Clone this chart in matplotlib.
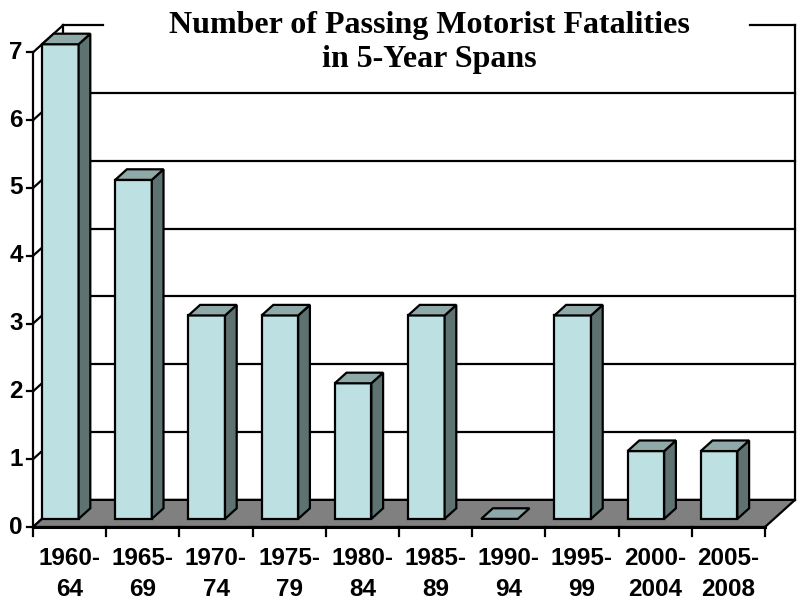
import numpy as np
import matplotlib
matplotlib.use('Agg')
from matplotlib import pyplot as plt
from matplotlib.patches import Polygon

# Chart data
categories = ['1960-\n64', '1965-\n69', '1970-\n74', '1975-\n79', '1980-\n84',
              '1985-\n89', '1990-\n94', '1995-\n99', '2000-\n2004', '2005-\n2008']
fatalities = [7, 5, 3, 3, 2, 3, 0, 3, 1, 1]
y_ticks = [0, 1, 2, 3, 4, 5, 6, 7]
title_text = 'Number of Passing Motorist Fatalities\nin 5-Year Spans'

# Colours
front_color = '#bde0e3'
side_color = '#5f7272'
top_color = '#8fa9a9'
floor_color = '#808080'

# Depth of the 3D box, in data units (x in categories, y in values)
depth_dx = 0.41
depth_dy = 0.40
bar_z0, bar_z1 = 0.30, 0.69
bar_width = 0.50

n = len(categories)
y_max = max(y_ticks)


def proj(x, y, z):
    # oblique projection: depth moves to the right and up
    return (x + z * depth_dx, y + z * depth_dy)


fig = plt.figure(figsize=(7.99, 6.06), dpi=100)
ax = fig.add_axes([0, 0, 1, 1])
ax.set_xlim(-33 / 73.2, (799 - 33) / 73.2)
ax.set_ylim(-79 / 67.8, (606 - 79) / 67.8)
ax.axis('off')

lw = 1.6

# Back wall and gridlines
for v in y_ticks:
    x0, y0 = proj(0, v, 1)
    x1, y1 = proj(n, v, 1)
    if v == y_max:
        # top edge is broken where the title sits
        ax.plot([x0, 0.96], [y0, y1], color='black', lw=lw, zorder=1)
        ax.plot([9.8, x1], [y0, y1], color='black', lw=lw, zorder=1)
    else:
        ax.plot([x0, x1], [y0, y1], color='black', lw=lw, zorder=1)
    # gridline on the left wall
    xa, ya = proj(0, v, 0)
    ax.plot([xa, x0], [ya, y0], color='black', lw=lw, zorder=1)
bx0, by0 = proj(0, 0, 1)
bx1, by1 = proj(0, y_max, 1)
ax.plot([bx0, bx1], [by0, by1], color='black', lw=lw, zorder=1)
bx0, by0 = proj(n, 0, 1)
bx1, by1 = proj(n, y_max, 1)
ax.plot([bx0, bx1], [by0, by1], color='black', lw=lw, zorder=1)

# Floor
floor = [proj(0, 0, 0), proj(n, 0, 0), proj(n, 0, 1), proj(0, 0, 1)]
ax.add_patch(Polygon(floor, closed=True, facecolor=floor_color,
                     edgecolor='black', lw=lw, zorder=2))

# Front axis lines
ax.plot([0, 0], [0, y_max], color='black', lw=lw, zorder=5)
ax.plot([0, n], [0, 0], color='black', lw=2.2, zorder=5)

# Bars
for i, val in enumerate(fatalities):
    xl = i
    xr = i + bar_width
    front = [proj(xl, 0, bar_z0), proj(xr, 0, bar_z0),
             proj(xr, val, bar_z0), proj(xl, val, bar_z0)]
    side = [proj(xr, 0, bar_z0), proj(xr, 0, bar_z1),
            proj(xr, val, bar_z1), proj(xr, val, bar_z0)]
    top = [proj(xl, val, bar_z0), proj(xr, val, bar_z0),
           proj(xr, val, bar_z1), proj(xl, val, bar_z1)]
    if val > 0:
        ax.add_patch(Polygon(front, closed=True, facecolor=front_color,
                             edgecolor='black', lw=lw, zorder=3))
        ax.add_patch(Polygon(side, closed=True, facecolor=side_color,
                             edgecolor='black', lw=lw, zorder=3))
    ax.add_patch(Polygon(top, closed=True, facecolor=top_color,
                         edgecolor='black', lw=lw, zorder=3))

# Y ticks and labels
for v in y_ticks:
    ax.plot([-6 / 73.2, 0], [v, v], color='black', lw=lw, zorder=5)
    ax.text(-10 / 73.2, v, str(v), ha='right', va='center',
            fontsize=17.5, fontweight='bold', family='Liberation Sans')

# X ticks and labels
for i in range(n + 1):
    ax.plot([i, i], [0, -9 / 67.8], color='black', lw=lw, zorder=5)
for i, lab in enumerate(categories):
    ax.text(i + 0.5, -0.29, lab, ha='center', va='top', fontsize=17.5,
            fontweight='bold', family='Liberation Sans', linespacing=1.45)

# Title
ax.text(5.42, 7.15, title_text, ha='center', va='center',
        fontsize=23, fontweight='bold', family='Liberation Serif',
        linespacing=1.22, zorder=6)

plt.savefig('out.png', dpi=100)
plt.close()
